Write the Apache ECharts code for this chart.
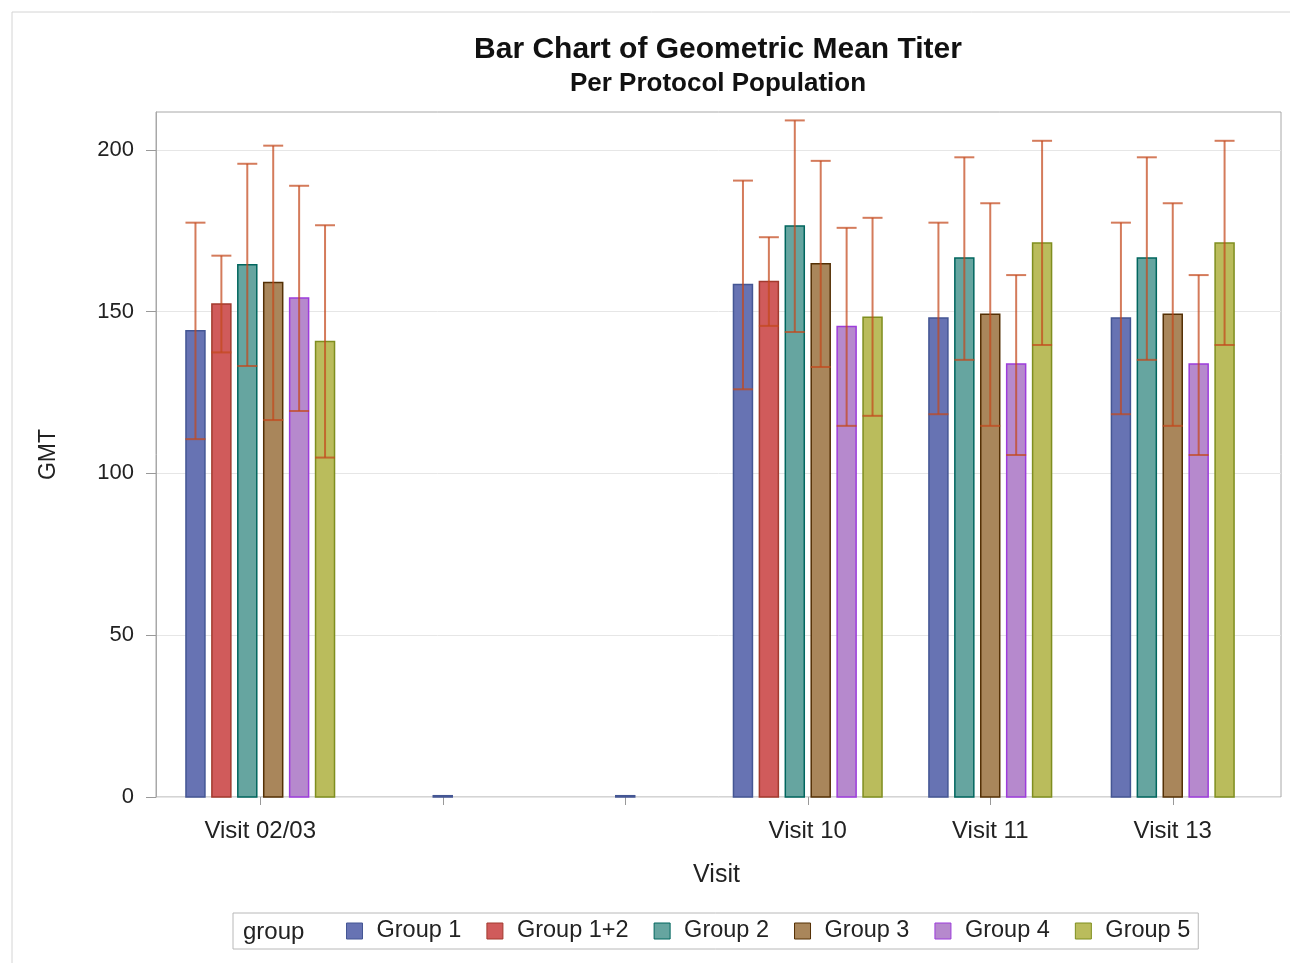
<!DOCTYPE html>
<html>
<head>
<meta charset="utf-8">
<title>Bar Chart of Geometric Mean Titer</title>
<script src="https://cdn.jsdelivr.net/npm/echarts@6/dist/echarts.min.js"></script>
<style>
html, body { margin: 0; padding: 0; background: #fff; }
#chart { width: 1290px; height: 963px; }
</style>
</head>
<body>
<div id="chart"></div>
<script>
// categories on the x axis (two empty visit slots)
const visits = ['Visit 02/03', '', ' ', 'Visit 10', 'Visit 11', 'Visit 13'];
const groups = ['Group 1', 'Group 1+2', 'Group 2', 'Group 3', 'Group 4', 'Group 5'];

// one row per group, one column per visit
const gmt = [
    [144.1, 0.4, 0.4, 158.4, 148.0, 148.0],
    [152.4, null, null, 159.3, null, null],
    [164.5, null, null, 176.5, 166.6, 166.6],
    [159.0, null, null, 164.8, 149.2, 149.2],
    [154.2, null, null, 145.4, 133.8, 133.8],
    [140.8, null, null, 148.3, 171.2, 171.2]
];
const lowerCL = [
    [110.6, null, null, 126.0, 118.3, 118.3],
    [137.4, null, null, 145.6, null, null],
    [133.2, null, null, 143.7, 135.1, 135.1],
    [116.5, null, null, 132.9, 114.7, 114.7],
    [119.3, null, null, 114.7, 105.7, 105.7],
    [104.9, null, null, 117.8, 139.7, 139.7]
];
const upperCL = [
    [177.5, null, null, 190.5, 177.5, 177.5],
    [167.3, null, null, 173.0, null, null],
    [195.7, null, null, 209.1, 197.7, 197.7],
    [201.3, null, null, 196.6, 183.5, 183.5],
    [188.9, null, null, 175.9, 161.3, 161.3],
    [176.7, null, null, 179.0, 202.8, 202.8]
];
const yTicks = [0, 50, 100, 150, 200];

// SAS htmlblue style colours
const fills = ['#6773B3', '#D05B5B', '#66A5A0', '#A9865B', '#B689CD', '#BABC5C'];
const borders = ['#445694', '#A23A2E', '#01665E', '#543005', '#9D3CDB', '#7F8E1F'];
const errColor = 'rgba(196,72,28,0.72)';
const font = 'Liberation Sans, Arial, sans-serif';

let mycharts = echarts.init(document.getElementById('chart'));

// bars of one visit are packed together, missing groups leave no gap
function renderBar(g) {
    return function (params, api) {
        let ci = api.value(0);
        let present = [];
        for (let k = 0; k < groups.length; k++) {
            if (gmt[k][ci] != null) present.push(k);
        }
        let pos = present.indexOf(g);
        let n = present.length;
        let band = api.size([1, 0])[0];
        let step = band * 0.142;
        let w = band * 0.104;
        let base = api.coord([ci, 0]);
        let x = base[0] + (pos - (n - 1) / 2) * step;
        let top = api.coord([ci, api.value(1)])[1];
        let children = [{
            type: 'rect',
            shape: { x: x - w / 2, y: top, width: w, height: base[1] - top },
            style: { fill: fills[g], stroke: borders[g], lineWidth: 1.5 }
        }];
        let lo = lowerCL[g][ci], hi = upperCL[g][ci];
        if (lo != null && hi != null) {
            let yl = api.coord([ci, lo])[1];
            let yh = api.coord([ci, hi])[1];
            let es = { stroke: errColor, lineWidth: 2 };
            let cw = w / 2 + 0.5;
            children.push(
                { type: 'line', shape: { x1: x, y1: yl, x2: x, y2: yh }, style: es },
                { type: 'line', shape: { x1: x - cw, y1: yh, x2: x + cw, y2: yh }, style: es },
                { type: 'line', shape: { x1: x - cw, y1: yl, x2: x + cw, y2: yl }, style: es }
            );
        }
        return { type: 'group', children: children };
    };
}

let series = groups.map(function (name, g) {
    let data = [];
    gmt[g].forEach(function (v, ci) {
        if (v != null) data.push([ci, v]);
    });
    return {
        name: name,
        type: 'custom',
        xAxisIndex: 1,
        yAxisIndex: 1,
        itemStyle: { color: fills[g], borderColor: borders[g] },
        encode: { x: 0, y: 1 },
        renderItem: renderBar(g),
        data: data
    };
});

mycharts.setOption({
    animation: false,
    backgroundColor: '#fff',
    textStyle: { fontFamily: font },
    graphic: [
        {
            type: 'rect',
            shape: { x: 12, y: 12, width: 1300, height: 980 },
            style: { fill: 'none', stroke: '#d4d4d4', lineWidth: 1 },
            silent: true
        },
        {
            type: 'text', x: 718, y: 50,
            style: { text: 'Bar Chart of Geometric Mean Titer', font: 'bold 30px ' + font, fill: '#111', textAlign: 'center', textVerticalAlign: 'middle' }
        },
        {
            type: 'text', x: 718, y: 84,
            style: { text: 'Per Protocol Population', font: 'bold 26px ' + font, fill: '#111', textAlign: 'center', textVerticalAlign: 'middle' }
        },
        {
            type: 'text', x: 243, y: 932,
            style: { text: 'group', font: '24px ' + font, fill: '#222', textVerticalAlign: 'middle' }
        }
    ],
    grid: [
        { left: 156, right: 9, top: 112, bottom: 166, show: true, borderColor: '#a8a8a8', borderWidth: 1 },
        { left: 169, right: 26, top: 112, bottom: 166 }
    ],
    xAxis: [
        { type: 'value', gridIndex: 0, show: false, min: 0, max: 1 },
        {
            type: 'category',
            gridIndex: 1,
            data: visits,
            axisLine: { show: false },
            axisTick: { show: true, alignWithLabel: true, length: 8, lineStyle: { color: '#999' } },
            axisLabel: { fontSize: 24, color: '#222', margin: 22 },
            name: 'Visit',
            nameLocation: 'middle',
            nameGap: 66,
            nameTextStyle: { fontSize: 25, color: '#222' }
        }
    ],
    yAxis: [
        {
            type: 'value',
            gridIndex: 0,
            min: 0,
            max: 211.7,
            interval: 50,
            axisLine: { show: true, lineStyle: { color: '#a8a8a8' } },
            axisTick: { show: true, length: 10, customValues: yTicks, lineStyle: { color: '#999' } },
            axisLabel: { fontSize: 22, color: '#222', margin: 22, customValues: yTicks },
            splitLine: { show: true, lineStyle: { color: '#e6e6e6' } },
            name: 'GMT',
            nameLocation: 'middle',
            nameGap: 96,
            nameRotate: 90,
            nameTextStyle: { fontSize: 23, color: '#222' }
        },
        { type: 'value', gridIndex: 1, min: 0, max: 211.7, show: false, splitLine: { show: false } }
    ],
    legend: {
        left: 233,
        top: 913,
        padding: [6, 8, 6, 113],
        borderColor: '#b8b8b8',
        borderWidth: 1,
        icon: 'rect',
        itemWidth: 16,
        itemHeight: 16,
        itemGap: 25,
        textStyle: { fontSize: 23.5, color: '#222', padding: [0, 0, 0, 9] },
        data: groups.map(function (name, g) {
            return { name: name, itemStyle: { color: fills[g], borderColor: borders[g], borderWidth: 1 } };
        })
    },
    series: series
});
</script>
</body>
</html>
